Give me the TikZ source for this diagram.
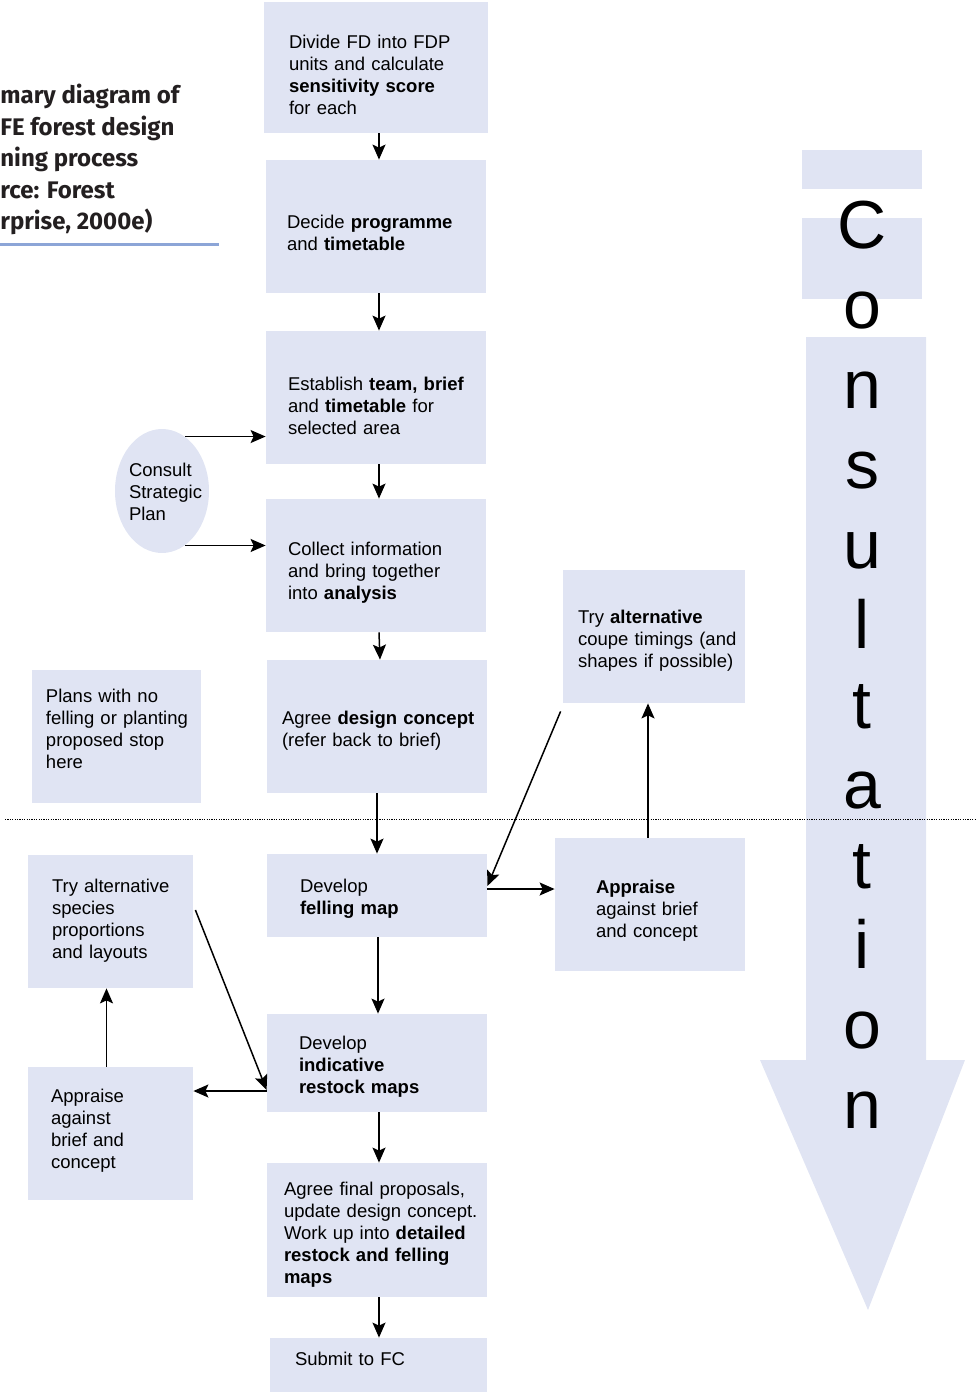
\documentclass[tikz,border=0pt]{standalone}
\usepackage{fontspec}
\setmainfont{Liberation Sans}
\newfontfamily\titlefont{Fira Sans}
\usetikzlibrary{arrows.meta,shapes.geometric}
\definecolor{boxfill}{RGB}{224,228,243}
\definecolor{rulecol}{RGB}{140,165,215}
\definecolor{titlecol}{RGB}{35,31,32}
\hyphenpenalty=10000
\exhyphenpenalty=10000
\begin{document}
\begin{tikzpicture}[x=0.5pt,y=-0.5pt]
    \tikzstyle{every node}=[inner sep=0pt, font=\fontsize{9.25}{11.1}\selectfont, text=black]
    \tikzstyle{box}=[rectangle, fill=boxfill, align=left, minimum height=66.5pt, text height=0pt, text depth=0pt]
    \tikzstyle{edge}=[black, line width=0.75pt, -{Stealth[length=7.5pt,width=6.5pt,inset=1.5pt]}]

    \useasboundingbox (0,0) rectangle (977,1392);

    \fill[boxfill] (802,150) rectangle (922,189);
    \fill[boxfill] (802,218) rectangle (922,299);
    \fill[boxfill] (806,337) -- (926,337) -- (926,1060) -- (965,1060) -- (868,1310) -- (760,1060) -- (806,1060) -- cycle;
    \foreach \ch [count=\i] in {C,o,n,s,u,l,t,a,t,i,o,n}
        \node[font=\fontsize{34}{34}\selectfont, anchor=base] (letter\i) at (862,168+80*\i) {\ch};

    \node[anchor=north west, align=left, text=titlecol, font=\titlefont\bfseries\fontsize{12}{15.75}\selectfont] (title) at (0,84) {mary diagram of\\FE forest design\\ning process\\rce: Forest\\rprise, 2000e)};
    \draw[rulecol, line width=1.5pt] (0,244) -- (219,244);

    \node[box, minimum width=112pt, minimum height=65.5pt, text width=87pt, text depth=19.2pt] (divide) at (376,67.5) {Divide FD into FDP\\units and calculate\\\textbf{sensitivity~score}\\for each};
    \node[box, minimum width=110pt, text width=89pt, text height=1.8pt] (decide) at (376,226.5) {Decide \textbf{programme}\\and \textbf{timetable}};
    \node[box, minimum width=110pt, text width=88pt, text depth=7.5pt] (establish) at (376,397.5) {Establish~\textbf{team,~brief}\\and~\textbf{timetable}~for\\selected area};
    \node[box, minimum width=110pt, text width=88pt, text depth=10.5pt] (collect) at (376,565.5) {Collect~information\\and~bring~together\\into \textbf{analysis}};
    \node[box, minimum width=110pt, text width=95pt, text depth=2.5pt] (concept) at (377,726.5) {Agree~\textbf{design~concept}\\(refer~back~to~brief)};
    \node[box, minimum width=110pt, minimum height=41.5pt, text width=77pt, text depth=3.5pt] (felling) at (377,895.5) {Develop\\\textbf{felling map}};
    \node[box, minimum width=110pt, minimum height=49pt, text width=78pt, text depth=14pt] (restock) at (377,1063) {Develop\\\textbf{indicative}\\\textbf{restock~maps}};
    \node[box, minimum width=110pt, minimum height=67pt, text width=93pt, text depth=35pt] (final) at (377,1230) {Agree~final~proposals,\\update~design~concept.\\Work~up~into~\textbf{detailed}\\\textbf{restock~and~felling}\\\textbf{maps}};
    \node[box, minimum width=108.5pt, minimum height=27pt, text width=83.5pt] (submit) at (378.5,1365) {Submit to FC};

    \node[box, minimum width=91pt, text width=76pt, text depth=13.5pt] (coupe) at (654,636.5) {Try~\textbf{alternative}\\coupe~timings~(and\\shapes~if~possible)};
    \node[box, minimum width=95pt, text width=54pt, text depth=11.5pt] (appraiseR) at (650,904.5) {\textbf{Appraise}\\against~brief\\and~concept};
    \node[box, minimum width=84.5pt, text width=70.5pt, text depth=34.5pt] (plans) at (116.5,736.5) {Plans~with~no\\felling~or~planting\\proposed~stop\\here};
    \node[box, minimum width=82.5pt, text width=58.5pt, text depth=29.5pt] (species) at (110.5,921.5) {Try~alternative\\species\\proportions\\and~layouts};
    \node[box, minimum width=82.5pt, text width=59.5pt, text depth=31.5pt] (appraiseL) at (110.5,1133.5) {Appraise\\against\\brief~and\\concept};
    \node[ellipse, fill=boxfill, inner sep=0pt, minimum width=47pt, minimum height=62pt, text width=33pt, align=left, text height=0pt, text depth=15pt] (consult) at (162,491) {Consult\\Strategic\\Plan};

    \draw[edge] ([xshift=1.5pt]divide.south) -- ([xshift=1.5pt]decide.north);
    \draw[edge] ([xshift=1.5pt]decide.south) -- ([xshift=1.5pt]establish.north);
    \draw[edge] ([xshift=1.5pt]establish.south) -- ([xshift=1.5pt]collect.north);
    \draw[edge] ([xshift=1.5pt]collect.south) -- ([xshift=1.5pt]concept.north);
    \draw[edge] (concept) -- (felling);
    \draw[edge] ([xshift=0.5pt]felling.south) -- ([xshift=0.5pt]restock.north);
    \draw[edge] ([xshift=1pt]restock.south) -- ([xshift=1pt]final.north);
    \draw[edge] ([xshift=1pt]final.south) -- ([xshift=1pt]final.south |- submit.north);

    \draw[edge] (consult.67) -- (consult.67 -| establish.west);
    \draw[edge] (consult.-67) -- (consult.-67 -| collect.west);

    \draw[edge] ([yshift=3.25pt]felling.east) -- ([yshift=3.25pt]felling.east -| appraiseR.west);
    \draw[edge] ([xshift=-1pt]appraiseR.north) -- ([xshift=-1pt]appraiseR.north |- coupe.south);
    \draw[edge] ([shift={(-1pt,-4pt)}]coupe.south west) -- ([yshift=4.75pt]felling.east);

    \draw[edge] ([yshift=-14pt]restock.west) -- ([yshift=-14pt]restock.west -| appraiseL.east);
    \draw[edge] ([xshift=-2pt]appraiseL.north) -- ([xshift=-2pt]species.south);
    \draw[edge] ([shift={(1pt,5.75pt)}]species.east) -- ([yshift=-13.5pt]restock.west);

    \draw[line width=0.4pt, dash pattern=on 0.6pt off 0.6pt] (5,819) -- (977,819);
\end{tikzpicture}
\end{document}
